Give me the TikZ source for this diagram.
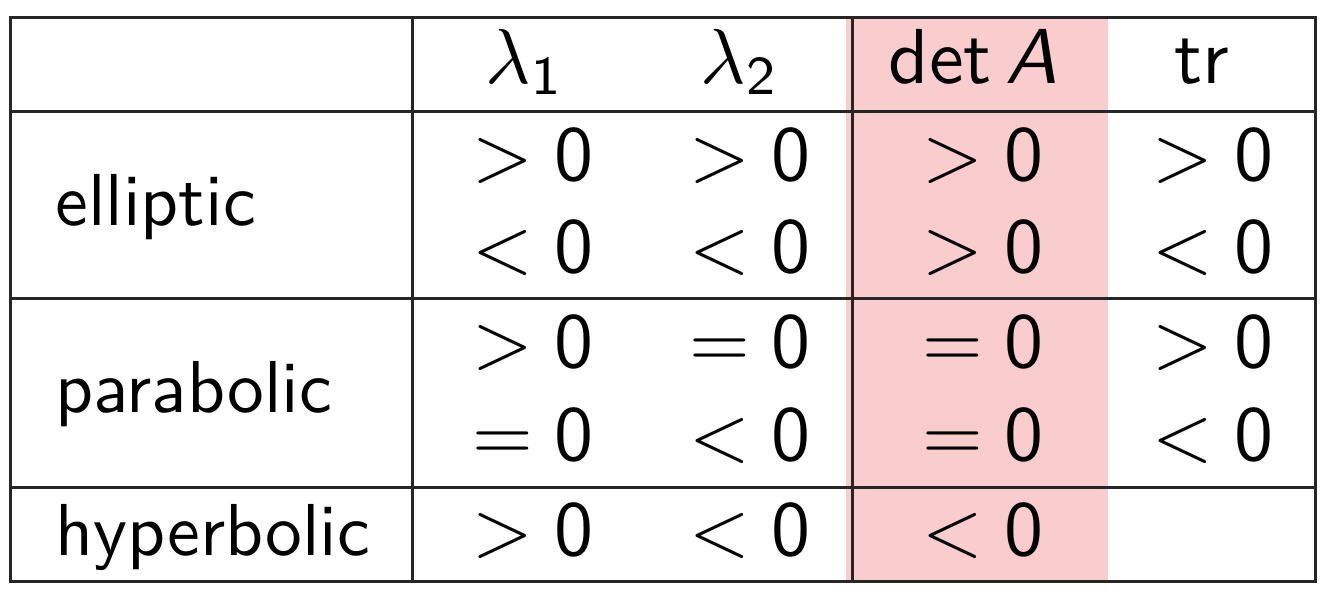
\documentclass[tikz,border=0pt]{standalone}
\definecolor{hlpink}{RGB}{249,205,205}
\newcommand{\bigtxt}[1]{\scalebox{3.9}{\sffamily #1}}
\newcommand{\labtxt}[1]{\scalebox{3.68}{\sffamily #1}}
\tikzset{
  cell/.style={anchor=base, inner sep=0pt},
  lab/.style={anchor=base west, inner sep=0pt},
  rule/.style={line width=1.5pt, black!85},
}
\begin{document}
\begin{tikzpicture}[x=0.5pt,y=-0.5pt]
\useasboundingbox (0,0) rectangle (1328,596);
% highlight column
\fill[hlpink] (846,18) rectangle (1108,580);
% rules
\draw[rule] (10,17) rectangle (1315,581);
\draw[rule] (10,111) -- (1315,111);
\draw[rule] (10,298) -- (1315,298);
\draw[rule] (10,487) -- (1315,487);
\draw[rule] (412,17) -- (412,581);
\draw[rule] (852,17) -- (852,581);
% header
\node[cell] (h1) at (525,83) {\bigtxt{$\lambda_{\mathsf{1}}$}};
\node[cell] (h2) at (740,83) {\bigtxt{$\lambda_{\mathsf{2}}$}};
\node[cell] (h3) at (973,83) {\bigtxt{det\,\textit{A}}};
\node[cell] (h4) at (1202,83) {\bigtxt{tr}};
% labels
\node[lab] (l1) at (55,225) {\labtxt{elliptic}};
\node[lab] (l2) at (55,412) {\labtxt{parabolic}};
\node[lab] (l3) at (55,555) {\labtxt{hyperbolic}};
% elliptic
\node[cell] (a11) at (533,180) {\bigtxt{$>\mathsf{0}$}};
\node[cell] (a12) at (750,180) {\bigtxt{$>\mathsf{0}$}};
\node[cell] (a13) at (983,180) {\bigtxt{$>\mathsf{0}$}};
\node[cell] (a14) at (1213,180) {\bigtxt{$>\mathsf{0}$}};
\node[cell] (a21) at (533,272) {\bigtxt{$<\mathsf{0}$}};
\node[cell] (a22) at (750,272) {\bigtxt{$<\mathsf{0}$}};
\node[cell] (a23) at (983,272) {\bigtxt{$>\mathsf{0}$}};
\node[cell] (a24) at (1213,272) {\bigtxt{$<\mathsf{0}$}};
% parabolic
\node[cell] (b11) at (533,367) {\bigtxt{$>\mathsf{0}$}};
\node[cell] (b12) at (750,367) {\bigtxt{$=\mathsf{0}$}};
\node[cell] (b13) at (983,367) {\bigtxt{$=\mathsf{0}$}};
\node[cell] (b14) at (1213,367) {\bigtxt{$>\mathsf{0}$}};
\node[cell] (b21) at (533,460) {\bigtxt{$=\mathsf{0}$}};
\node[cell] (b22) at (750,460) {\bigtxt{$<\mathsf{0}$}};
\node[cell] (b23) at (983,460) {\bigtxt{$=\mathsf{0}$}};
\node[cell] (b24) at (1213,460) {\bigtxt{$<\mathsf{0}$}};
% hyperbolic
\node[cell] (c11) at (533,555) {\bigtxt{$>\mathsf{0}$}};
\node[cell] (c12) at (750,555) {\bigtxt{$<\mathsf{0}$}};
\node[cell] (c13) at (983,555) {\bigtxt{$<\mathsf{0}$}};
\end{tikzpicture}
\end{document}
